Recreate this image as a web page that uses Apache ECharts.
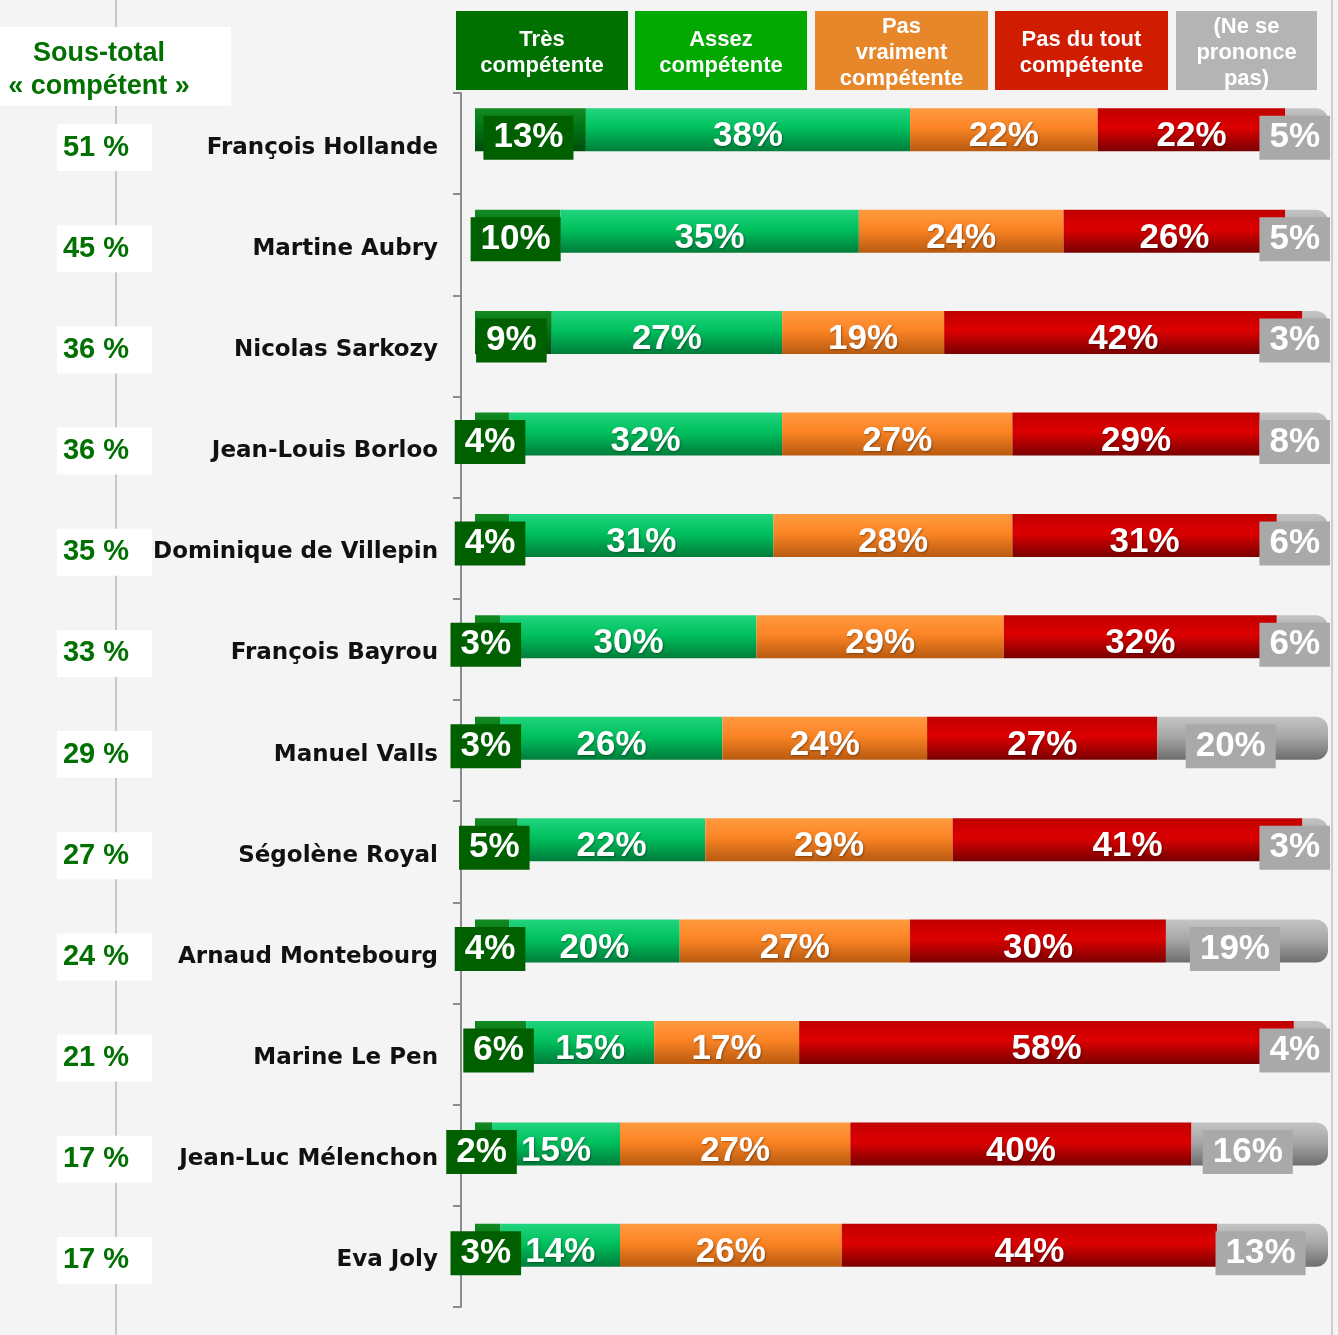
<!DOCTYPE html>
<html>
<head>
<meta charset="utf-8">
<script src="https://cdn.jsdelivr.net/npm/echarts@6/dist/echarts.min.js"></script>
<style>
html,body{margin:0;padding:0;background:#f4f4f4;}
#chart{width:1338px;height:1335px;}
</style>
</head>
<body>
<div id="chart"></div>
<script>
var names = ['François Hollande','Martine Aubry','Nicolas Sarkozy','Jean-Louis Borloo','Dominique de Villepin','François Bayrou','Manuel Valls','Ségolène Royal','Arnaud Montebourg','Marine Le Pen','Jean-Luc Mélenchon','Eva Joly'];
var subtotal = [51,45,36,36,35,33,29,27,24,21,17,17];
var tres = [13,10,9,4,4,3,3,5,4,6,2,3];
var assez = [38,35,27,32,31,30,26,22,20,15,15,14];
var pasVraiment = [22,24,19,27,28,29,24,29,27,17,27,26];
var pasDuTout = [22,26,42,29,31,32,27,41,30,58,40,44];
var nsp = [5,5,3,8,6,6,20,3,19,4,16,13];
var seriesNames = ['Très\ncompétente','Assez\ncompétente','Pas\nvraiment\ncompétente','Pas du tout\ncompétente','(Ne se\nprononce\npas)'];
var subtotalTitle = 'Sous-total\n« compétent »';

var legendColors = ['#007000','#00a800','#e8872a','#d01c00','#b4b4b4'];
var barGrad = [
  ['#138a22','#007415','#004d0c'],
  ['#22d47e','#00c15e','#007d3a'],
  ['#ff9a40','#fb8424','#b85a10'],
  ['#c00000','#dd0000','#7a0000'],
  ['#c4c4c4','#a8a8a8','#6e6e6e']
];
function grad(c){
  return new echarts.graphic.LinearGradient(0,0,0,1,[
    {offset:0,color:c[0]},{offset:0.45,color:c[1]},{offset:1,color:c[2]}]);
}
var allData = [tres, assez, pasVraiment, pasDuTout, nsp];
var FONT = 'Liberation Sans, Arial, sans-serif';

var midLabel = {
  show:true, position:'inside', formatter:'{c}%', color:'#fff',
  fontFamily:FONT, fontWeight:'bold', fontSize:35, offset:[0,7],
  textShadowColor:'rgba(0,0,0,0.35)', textShadowBlur:2, textShadowOffsetX:1, textShadowOffsetY:1
};

var series = allData.map(function(arr, si){
  var s = {
    name: seriesNames[si].replace(/\n/g,' '),
    type:'bar', stack:'t', xAxisIndex:1, yAxisIndex:2,
    barWidth:43,
    itemStyle:{color:grad(barGrad[si])},
    label: Object.assign({}, midLabel),
    data: arr.slice()
  };
  if (si === 0) {
    s.label = Object.assign({}, midLabel, {
      backgroundColor:'#006000', padding:[5,10,4,10], lineHeight:35, offset:[-2,8],
      textShadowBlur:0, textShadowOffsetX:0, textShadowOffsetY:0
    });
  }
  if (si === 4) {
    s.itemStyle.borderRadius = [0,12,12,0];
    s.data = arr.map(function(v){
      var big = v >= 10;
      return {
        value:v,
        label: Object.assign({}, midLabel, {
          position: big ? 'inside' : 'insideRight',
          distance: 0,
          offset: big ? [-12,8] : [2,8],
          backgroundColor:'#a9a9a9', padding:[5,10,4,10], lineHeight:35,
          textShadowBlur:0, textShadowOffsetX:0, textShadowOffsetY:0
        })
      };
    });
  }
  return s;
});

var legendX = [456,635,815,995,1176];
var legendW = [172,172,173,173,141];
var graphics = [
  {type:'rect', z:-100, shape:{x:115,y:0,width:2,height:1335}, style:{fill:'#c8c8c8'}},
  {type:'rect', z:-100, shape:{x:1331,y:0,width:2,height:1335}, style:{fill:'#cccccc'}},
  {type:'rect', z:50, shape:{x:0,y:27,width:231,height:79}, style:{fill:'#ffffff'}},
  {type:'text', z:51, x:99, y:70, style:{text:subtotalTitle, fill:'#007000', font:'bold 27px '+FONT, align:'center', verticalAlign:'middle', lineHeight:33}}
];
seriesNames.forEach(function(n,i){
  graphics.push({type:'rect', z:50, shape:{x:legendX[i], y:11, width:legendW[i], height:79}, style:{fill:legendColors[i]}});
  graphics.push({type:'text', z:51, x:legendX[i]+legendW[i]/2, y:53, style:{text:n, fill:'#ffffff', font:'bold 22px '+FONT, align:'center', verticalAlign:'middle', lineHeight:26}});
});

var chart = echarts.init(document.getElementById('chart'));
chart.setOption({
  backgroundColor:'#f4f4f4',
  animation:false,
  graphic: graphics,
  grid:[
    {left:461, right:10, top:93, bottom:28},
    {left:475, right:10, top:79, bottom:39},
    {left:461, right:10, top:97, bottom:24}
  ],
  xAxis:[
    {gridIndex:0, type:'value', show:false},
    {gridIndex:1, type:'value', min:0, max:100, show:false},
    {gridIndex:2, type:'value', show:false}
  ],
  yAxis:[
    {gridIndex:0, type:'category', inverse:true, data:names, position:'left',
     axisLine:{show:true, lineStyle:{color:'#8c8c8c', width:2}},
     axisTick:{show:true, length:8, lineStyle:{color:'#8c8c8c', width:2}},
     axisLabel:{show:false}},
    {gridIndex:2, type:'category', inverse:true, position:'left',
     data: subtotal.map(function(v){return v+' %';}),
     axisLine:{show:false}, axisTick:{show:false},
     axisLabel:{margin:309, align:'right', width:72, backgroundColor:'#ffffff', padding:[7,23,7,0], lineHeight:33,
       color:'#007000', fontFamily:FONT, fontWeight:'bold', fontSize:29}},
    {gridIndex:1, type:'category', inverse:true, data:names, show:false, position:'left'},
    {gridIndex:2, type:'category', inverse:true, data:names, position:'left', offset:0,
     axisLine:{show:false}, axisTick:{show:false},
     axisLabel:{margin:23, color:'#111', fontFamily:'DejaVu Sans, sans-serif', fontWeight:'bold', fontSize:23}}
  ],
  series: series
});
</script>
</body>
</html>
